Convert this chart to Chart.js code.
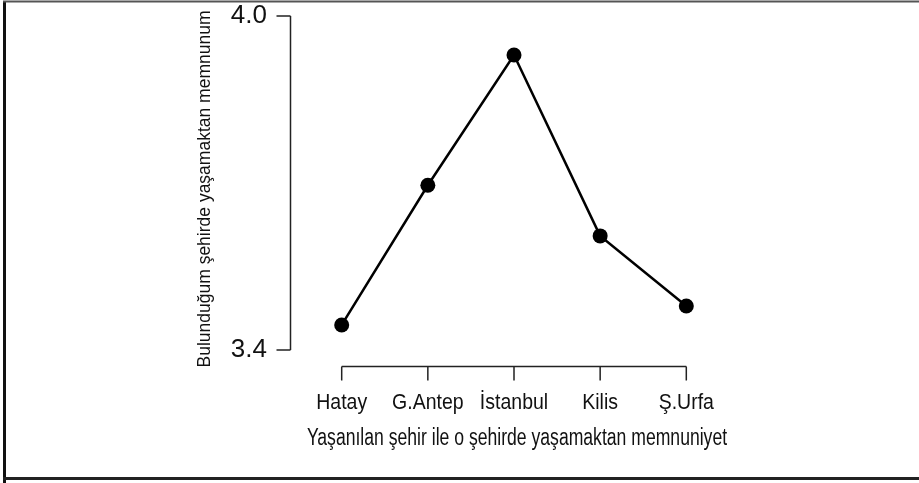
<!DOCTYPE html>
<html>
<head>
<meta charset="utf-8">
<script src="https://cdn.jsdelivr.net/npm/chart.js@4.4.1/dist/chart.umd.min.js"></script>
<style>
  html, body { margin: 0; padding: 0; background: #fff; }
  #wrap { width: 919px; height: 483px; position: relative; }
</style>
</head>
<body>
<div id="wrap"><canvas id="c" width="919" height="483"></canvas></div>
<script>
const categories = ['Hatay', 'G.Antep', 'İstanbul', 'Kilis', 'Ş.Urfa'];
const satisfaction = [3.445, 3.696, 3.930, 3.605, 3.479];
const yTicks = [3.4, 4.0];
const xTitle = 'Yaşanılan şehir ile o şehirde yaşamaktan memnuniyet';
const yTitle = 'Bulunduğum şehirde yaşamaktan memnunum';

const FONT = "'Liberation Sans', Arial, sans-serif";

function stretchedText(ctx, text, x, y, size, sy) {
  ctx.save();
  ctx.translate(x, y);
  ctx.scale(1, sy);
  ctx.font = size + "px " + FONT;
  ctx.fillText(text, 0, 0);
  ctx.restore();
}

const rAxes = {
  id: 'rAxes',
  beforeDraw(chart) {
    const ctx = chart.ctx;
    ctx.save();
    ctx.fillStyle = '#fff';
    ctx.fillRect(0, 0, chart.width, chart.height);
    ctx.strokeStyle = '#111';
    ctx.lineWidth = 3;
    ctx.beginPath();
    ctx.moveTo(4.5, 483);
    ctx.lineTo(4.5, 1.5);
    ctx.stroke();
    ctx.strokeStyle = '#555';
    ctx.lineWidth = 2;
    ctx.beginPath();
    ctx.moveTo(3, 1.5);
    ctx.lineTo(919, 1.5);
    ctx.stroke();
    ctx.strokeStyle = '#222';
    ctx.lineWidth = 3;
    ctx.beginPath();
    ctx.moveTo(3, 478.5);
    ctx.lineTo(919, 478.5);
    ctx.stroke();
    ctx.restore();
  },
  afterDraw(chart) {
    const ctx = chart.ctx;
    const xs = chart.scales.x, ys = chart.scales.y;
    const area = chart.chartArea;
    ctx.save();
    ctx.strokeStyle = '#222';
    ctx.lineWidth = 1.5;
    const ax = Math.round(area.left) + 0.5;
    const yTop = ys.getPixelForValue(yTicks[yTicks.length - 1]);
    const yBot = ys.getPixelForValue(yTicks[0]);
    ctx.beginPath();
    ctx.moveTo(ax, yTop);
    ctx.lineTo(ax, yBot);
    yTicks.forEach(v => {
      const p = ys.getPixelForValue(v);
      ctx.moveTo(ax, p);
      ctx.lineTo(ax - 14, p);
    });
    ctx.stroke();
    const ay = Math.round(area.bottom) + 16.5;
    const x0 = xs.getPixelForValue(0);
    const x1 = xs.getPixelForValue(categories.length - 1);
    ctx.beginPath();
    ctx.moveTo(x0, ay);
    ctx.lineTo(x1, ay);
    categories.forEach((c, i) => {
      const p = xs.getPixelForValue(i);
      ctx.moveTo(p, ay);
      ctx.lineTo(p, ay + 14);
    });
    ctx.stroke();
    ctx.fillStyle = '#111';
    ctx.textAlign = 'center';
    ctx.textBaseline = 'middle';
    categories.forEach((c, i) => {
      stretchedText(ctx, c, xs.getPixelForValue(i), ay + 36, 19.5, 1.15);
    });
    stretchedText(ctx, xTitle, (x0 + x1) / 2 + 3, 438, 17.6, 1.38);
    ctx.save();
    ctx.translate(205, 189);
    ctx.rotate(-Math.PI / 2);
    ctx.font = "17.5px " + FONT;
    ctx.fillText(yTitle, 0, 0);
    ctx.restore();
    ctx.restore();
  }
};

new Chart(document.getElementById('c'), {
  type: 'line',
  data: {
    labels: categories,
    datasets: [{
      data: satisfaction.map((v, i) => ({ x: i, y: v })),
      borderColor: '#000',
      backgroundColor: '#000',
      borderWidth: 2.5,
      pointRadius: 7.5,
      pointHoverRadius: 7.5,
      pointBackgroundColor: '#000',
      pointBorderWidth: 0,
      tension: 0,
      clip: false
    }]
  },
  options: {
    responsive: false,
    animation: false,
    events: [],
    layout: { padding: { top: 16, right: 181, bottom: 0, left: 0 } },
    plugins: { legend: { display: false }, tooltip: { enabled: false } },
    scales: {
      x: {
        type: 'linear',
        min: -0.6,
        max: categories.length - 1 + 0.6,
        grid: { display: false, drawTicks: false },
        border: { display: false },
        afterBuildTicks(scale) {
          scale.ticks = categories.map((c, i) => ({ value: i }));
        },
        afterFit(scale) { scale.height = 133; scale.paddingLeft = 0; scale.paddingRight = 0; },
        ticks: { display: false }
      },
      y: {
        min: yTicks[0],
        max: yTicks[yTicks.length - 1],
        grid: { display: false, drawTicks: false },
        border: { display: false },
        afterBuildTicks(scale) {
          scale.ticks = yTicks.map(v => ({ value: v }));
        },
        afterFit(scale) { scale.width = 290; scale.paddingTop = 0; scale.paddingBottom = 0; },
        ticks: {
          padding: 23,
          color: '#111',
          font: { family: FONT, size: 26 },
          callback: (v) => Number(v).toFixed(1)
        }
      }
    }
  },
  plugins: [rAxes]
});
</script>
</body>
</html>
